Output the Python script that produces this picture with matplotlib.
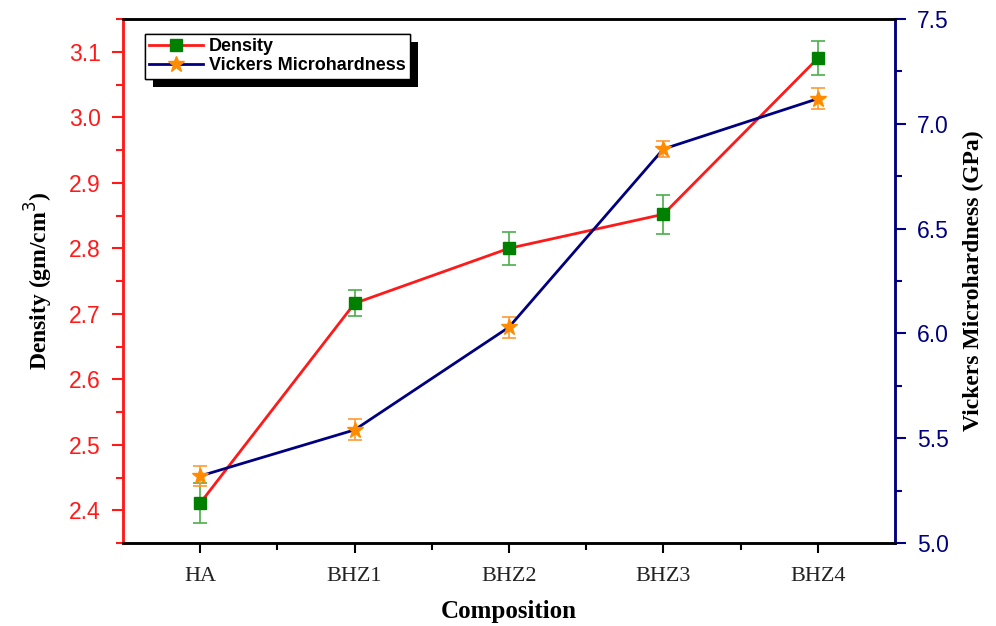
import matplotlib
matplotlib.use('Agg')
import matplotlib.pyplot as plt
import matplotlib.patheffects as pe
import numpy as np

# composition labels and measured values
samples = ['HA', 'BHZ1', 'BHZ2', 'BHZ3', 'BHZ4']
density = [2.411, 2.716, 2.800, 2.852, 3.090]
density_err = [0.030, 0.020, 0.025, 0.030, 0.026]
hardness = [5.32, 5.54, 6.03, 6.88, 7.12]
hardness_err = [0.05, 0.05, 0.05, 0.04, 0.05]

tick_font = 'Liberation Sans'
label_font = 'Liberation Serif'

fig = plt.figure(figsize=(9.96, 6.26), dpi=100)
ax = fig.add_axes([0.1235, 0.1325, 0.775, 0.837])
ax2 = ax.twinx()

x = np.arange(len(samples))

ax.errorbar(x, density, yerr=density_err, fmt='none', ecolor='#4cad4c',
            elinewidth=1.2, capsize=5, capthick=1.2, zorder=2)
l1, = ax.plot(x, density, color='#ff1a1a', lw=2, marker='s', ms=9,
              mfc='#008000', mec='#008000', zorder=3, label='Density')

ax2.errorbar(x, hardness, yerr=hardness_err, fmt='none', ecolor='#ff9933',
             elinewidth=1.2, capsize=5, capthick=1.2, zorder=2)
l2, = ax2.plot(x, hardness, color='#000080', lw=2, marker='*', ms=12,
               mfc='#ff8c00', mec='#ff8c00', zorder=3, label='Vickers Microhardness')

ax.set_xlim(-0.5, 4.5)
ax.set_ylim(2.35, 3.15)
ax2.set_ylim(5.0, 7.5)

ax.set_xticks(x)
ax.set_xticklabels(samples, fontfamily=label_font, fontsize=16, color='#222222')
ax.set_xticks(x[:-1] + 0.5, minor=True)
ax.set_yticks(np.arange(2.4, 3.11, 0.1))
ax.set_yticks(np.arange(2.35, 3.16, 0.1), minor=True)
ax2.set_yticks(np.arange(5.0, 7.51, 0.5))
ax2.set_yticks(np.arange(5.25, 7.5, 0.5), minor=True)

ax.yaxis.set_major_formatter(matplotlib.ticker.FormatStrFormatter('%.1f'))
ax2.yaxis.set_major_formatter(matplotlib.ticker.FormatStrFormatter('%.1f'))

ax.tick_params(axis='x', which='both', direction='out', width=1.5, colors='black',
               labelcolor='#222222', pad=10)
ax.tick_params(axis='x', which='major', length=7)
ax.tick_params(axis='x', which='minor', length=5)
ax.tick_params(axis='y', which='both', direction='out', width=1.5, colors='#ff1a1a',
               labelsize=16.5, pad=8)
ax.tick_params(axis='y', which='major', length=8)
ax.tick_params(axis='y', which='minor', length=5)
ax2.tick_params(axis='y', which='both', direction='out', width=1.5, colors='#000080',
                labelsize=16.5, pad=8)
ax2.tick_params(axis='y', which='major', length=8)
ax2.tick_params(axis='y', which='minor', length=5)
for lab in ax.get_yticklabels() + ax2.get_yticklabels():
    lab.set_fontfamily(tick_font)

for a in (ax, ax2):
    a.spines['left'].set_color('#ff1a1a')
    a.spines['right'].set_color('#000080')
    a.spines['top'].set_color('black')
    a.spines['bottom'].set_color('black')
    for s in a.spines.values():
        s.set_linewidth(1.8)

ax.set_xlabel('Composition', fontfamily=label_font, fontweight='bold', fontsize=18, labelpad=10)
ax.set_ylabel('Density (gm/cm$^3$)', fontfamily=label_font, fontweight='bold', fontsize=17,
              labelpad=10)
ax2.set_ylabel('Vickers Microhardness (GPa)', fontfamily=label_font, fontweight='bold',
               fontsize=17, labelpad=10)

leg = ax.legend(handles=[l1, l2], loc='upper left', bbox_to_anchor=(0.028, 0.972),
                prop={'family': tick_font, 'weight': 'bold', 'size': 13},
                fancybox=False, edgecolor='black', framealpha=1, borderpad=0.25,
                labelspacing=0.1, handlelength=3.0, handletextpad=0.3,
                borderaxespad=0)
leg.get_frame().set_linewidth(1.0)
leg.get_frame().set_path_effects([
    pe.withSimplePatchShadow(offset=(6, -6), shadow_rgbFace='black', alpha=1),
    pe.Normal()])
leg.set_zorder(10)

fig.savefig('out.png', dpi=100)
